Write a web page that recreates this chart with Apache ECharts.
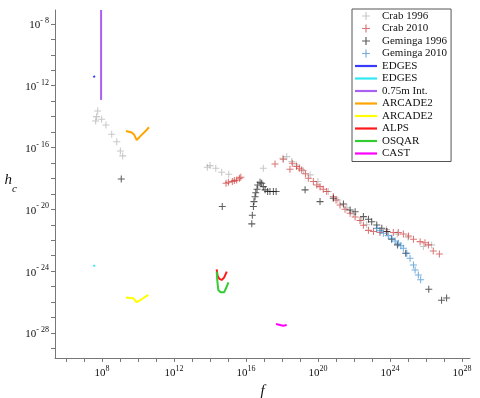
<!DOCTYPE html>
<html>
<head>
<meta charset="utf-8">
<script src="https://cdn.jsdelivr.net/npm/echarts@6/dist/echarts.min.js"></script>
<style>
  html, body { margin: 0; padding: 0; background: #fff; }
  #main { width: 480px; height: 398px; }
</style>
</head>
<body>
<div id="main"></div>
<script>
// every pair is [log10(f), log10(h_c)]
const crab1996 = [[7.76,-13.63],[7.70,-14.0],[7.65,-14.28],[7.98,-14.17],[8.22,-14.54],[8.54,-15.14],[8.82,-15.62],[9.02,-16.22],[9.15,-16.54],
  [13.85,-17.28],[14.0,-17.17],[14.32,-17.34],[14.65,-17.6],[15.04,-17.73],[16.96,-17.34],[18.04,-16.69],[18.26,-16.59],[18.54,-16.91],
  [18.81,-17.13],[19.2,-17.5],[19.56,-17.77],[20.0,-18.2],[20.57,-18.85],[21.1,-19.4],[21.6,-19.9],[21.96,-20.3],[22.4,-20.7],[22.7,-21.0],
  [23.26,-21.22],[23.8,-21.3],[24.4,-21.6],[25.0,-21.8],[25.85,-22.41],[26.31,-22.3]];
const crab2010 = [[14.89,-18.31],[15.02,-18.25],[15.24,-18.2],[15.35,-18.14],[15.48,-18.1],[15.63,-17.99],[15.71,-17.92],[17.61,-17.06],
  [18.07,-16.76],[18.44,-17.4],[18.57,-17.02],[18.81,-17.23],[18.96,-17.34],[19.09,-17.45],[19.3,-17.7],[19.46,-17.99],[19.74,-18.2],
  [19.93,-18.42],[20.11,-18.53],[20.29,-18.7],[20.48,-18.85],[20.85,-19.18],[21.0,-19.39],[21.22,-19.72],[21.5,-20.0],[21.78,-20.25],
  [22.06,-20.5],[22.33,-20.72],[22.52,-21.03],[22.8,-21.36],[23.08,-21.44],[23.44,-21.5],[23.82,-21.44],[24.18,-21.5],[24.46,-21.5],
  [24.74,-21.6],[25.02,-21.72],[25.3,-21.94],[25.67,-22.09],[25.94,-22.16],[26.13,-22.3],[26.4,-22.7],[26.74,-22.89]];
const geminga1996 = [[9.07,-18.03],[14.68,-19.82],[16.32,-20.94],[16.35,-20.38],[16.41,-19.82],[16.44,-19.5],[16.5,-19.18],[16.54,-18.92],
  [16.61,-18.7],[16.65,-18.42],[16.78,-18.25],[16.87,-18.31],[16.96,-18.53],[17.06,-18.74],[17.2,-18.85],[17.33,-18.85],[17.52,-18.85],
  [17.67,-18.85],[19.28,-18.74],[20.11,-19.5],[20.85,-19.28],[21.41,-19.65],[21.78,-20.04],[22.06,-20.15],[22.52,-20.47],[22.8,-20.64],
  [22.98,-20.8],[23.26,-21.01],[23.54,-21.22],[23.82,-21.44],[24.09,-21.94],[24.41,-22.3],[24.87,-22.84],[26.15,-25.17],[26.86,-25.88],[27.14,-25.74]];
const geminga2010 = [[23.26,-21.22],[23.44,-21.38],[23.63,-21.55],[23.9,-21.7],[24.09,-21.87],[24.28,-22.05],[24.46,-22.2],[24.6,-22.35],
  [24.74,-22.52],[24.93,-22.84],[25.11,-23.17],[25.3,-23.6],[25.39,-23.92],[25.57,-24.25],[25.7,-24.55]];

const edges1 = [[7.52,-11.45],[7.61,-11.37]];
const edges2 = [[7.52,-23.68],[7.62,-23.62]];
const int075 = [[7.95,-12.92],[7.95,-7.1]];
const arcade1 = [[9.33,-14.93],[9.65,-15.03],[9.79,-15.18],[9.93,-15.51],[10.2,-15.18],[10.48,-14.86],[10.61,-14.69]];
const arcade2 = [[9.33,-25.71],[9.74,-25.76],[9.93,-26.01],[10.2,-25.82],[10.57,-25.54]];
const alps = [[14.37,-23.88],[14.42,-24.29],[14.52,-24.5],[14.65,-24.57],[14.78,-24.42],[14.93,-24.03]];
const osqar = [[14.37,-24.03],[14.41,-24.68],[14.46,-25.22],[14.59,-25.37],[14.78,-25.37],[14.89,-25.11],[15.02,-24.72]];
const cast = [[17.67,-27.42],[17.89,-27.48],[18.07,-27.53],[18.26,-27.48]];

const xTicks = [6,7,8,9,10,11,12,13,14,15,16,17,18,19,20,21,22,23,24,25,26,27,28];
const xLabels = [8,12,16,20,24,28];
const yTicks = [-8,-9,-10,-11,-12,-13,-14,-15,-16,-17,-18,-19,-20,-21,-22,-23,-24,-25,-26,-27,-28,-29];
const yLabels = [-8,-12,-16,-20,-24,-28];

const pow = e => Math.pow(10, e);
const pts = a => a.map(p => [pow(p[0]), pow(p[1])]);
const serif = 'Liberation Serif';
const plus = 'path://M4.25,0h1.5v4.25h4.25v1.5h-4.25v4.25h-1.5v-4.25h-4.25v-1.5h4.25z';
const bar = 'path://M0,0h22v2.2h-22z';

function scatter(name, data, color) {
  return { name: name, type: 'scatter', data: pts(data), symbol: plus, symbolSize: 7,
    itemStyle: { color: color }, z: 2 };
}
function line(name, data, color) {
  return { name: name, type: 'line', data: pts(data), symbol: 'none', showSymbol: false,
    lineStyle: { color: color, width: 2 }, itemStyle: { color: color }, z: 3 };
}

const series = [
  scatter('Crab 1996', crab1996, 'rgba(140,140,140,0.6)'),
  scatter('Crab 2010', crab2010, 'rgba(200,40,40,0.8)'),
  scatter('Geminga 1996', geminga1996, 'rgba(20,20,20,0.85)'),
  scatter('Geminga 2010', geminga2010, 'rgba(40,130,200,0.8)'),
  line('EDGES', edges1, '#3b3bff'),
  line('EDGES ', edges2, '#30e8f0'),
  line('0.75m Int.', int075, '#a860f0'),
  line('ARCADE2', arcade1, '#ffa500'),
  line('ARCADE2 ', arcade2, '#ffff00'),
  line('ALPS', alps, '#ff1a1a'),
  line('OSQAR', osqar, '#33cc33'),
  line('CAST', cast, '#ff00ff')
];

const chart = echarts.init(document.getElementById('main'), null, { renderer: 'canvas' });
chart.setOption({
  animation: false,
  grid: { left: 55, right: 10, top: 10, bottom: 40, containLabel: false, outerBoundsMode: 'none' },
  legend: {
    orient: 'vertical', left: 352, top: 9,
    itemWidth: 22, itemHeight: 8, itemGap: 0.5,
    padding: [1, 4, 2, 3],
    borderColor: '#555', borderWidth: 1, backgroundColor: '#fff',
    data: series.map(s => ({ name: s.name, icon: s.type === 'line' ? bar : plus })),
    formatter: n => n.trim(),
    textStyle: { fontFamily: serif, fontSize: 11, color: '#111', lineHeight: 12 }
  },
  xAxis: {
    type: 'log', logBase: 10, min: pow(5.39), max: pow(28.44),
    name: 'f', nameLocation: 'middle', nameGap: 22,
    nameTextStyle: { fontFamily: serif, fontStyle: 'italic', fontSize: 15, color: '#111' },
    splitLine: { show: false }, minorTick: { show: false },
    axisLine: { show: true, onZero: false, lineStyle: { color: '#777' } },
    axisTick: { show: true, length: 4, lineStyle: { color: '#777' }, customValues: xTicks.map(pow) },
    axisLabel: {
      margin: 7, customValues: xLabels.map(pow),
      formatter: v => '{b|10}{e|' + Math.round(Math.log10(v)) + '}',
      rich: {
        b: { fontFamily: serif, fontSize: 11, color: '#111', lineHeight: 14, verticalAlign: 'bottom' },
        e: { fontFamily: serif, fontSize: 8, color: '#111', lineHeight: 14, verticalAlign: 'top' }
      }
    }
  },
  yAxis: {
    type: 'log', logBase: 10, min: pow(-29.62), max: pow(-7.1),
    name: '{h|h}{c|c}', nameLocation: 'middle', nameGap: 38, nameRotate: 0,
    nameTextStyle: {
      rich: {
        h: { fontFamily: serif, fontStyle: 'italic', fontSize: 15, color: '#111', lineHeight: 22, verticalAlign: 'top' },
        c: { fontFamily: serif, fontStyle: 'italic', fontSize: 11, color: '#111', lineHeight: 22, verticalAlign: 'bottom' }
      }
    },
    splitLine: { show: false }, minorTick: { show: false },
    axisLine: { show: true, onZero: false, lineStyle: { color: '#777' } },
    axisTick: { show: true, length: 4, lineStyle: { color: '#777' }, customValues: yTicks.map(pow) },
    axisLabel: {
      margin: 6, customValues: yLabels.map(pow),
      formatter: v => '{b|10}{e|- ' + (-Math.round(Math.log10(v))) + '}',
      rich: {
        b: { fontFamily: serif, fontSize: 11, color: '#111', lineHeight: 14, verticalAlign: 'bottom' },
        e: { fontFamily: serif, fontSize: 8, color: '#111', lineHeight: 14, verticalAlign: 'top' }
      }
    }
  },
  series: series
});
</script>
</body>
</html>
